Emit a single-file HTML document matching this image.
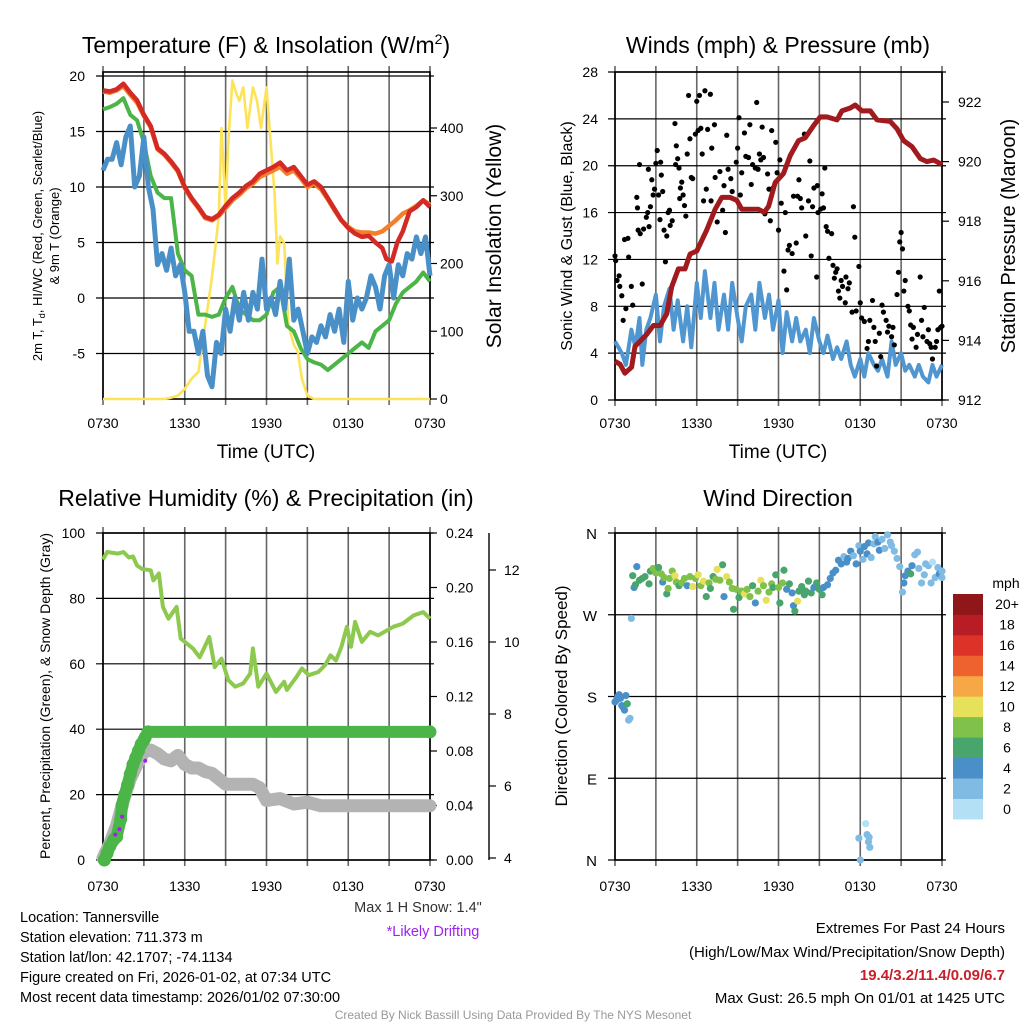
<!DOCTYPE html>
<html><head><meta charset="utf-8"><title>Tannersville Meteogram</title>
<style>
html,body{margin:0;padding:0;background:#fff;}
svg{display:block;font-family:"Liberation Sans",sans-serif;}
</style></head>
<body>
<svg id="chart" width="1024" height="1024" viewBox="0 0 1024 1024" xmlns="http://www.w3.org/2000/svg">
<rect x="0" y="0" width="1024" height="1024" fill="#fff"/>
<g id="tl"></g>
<g id="tr"></g>
<g id="bl"></g>
<g id="br"></g>
<!-- titles -->
<text x="266" y="53" font-size="23" text-anchor="middle">Temperature (F) &amp; Insolation (W/m<tspan font-size="14" dy="-9">2</tspan><tspan dy="9">)</tspan></text>
<text x="778" y="53" font-size="23" text-anchor="middle">Winds (mph) &amp; Pressure (mb)</text>
<text x="266" y="506" font-size="23" text-anchor="middle">Relative Humidity (%) &amp; Precipitation (in)</text>
<text x="778" y="506" font-size="23" text-anchor="middle">Wind Direction</text>
<!-- axis titles -->
<text x="266" y="458" font-size="19" text-anchor="middle">Time (UTC)</text>
<text x="778" y="458" font-size="19" text-anchor="middle">Time (UTC)</text>
<text transform="translate(42,236) rotate(-90)" font-size="13" text-anchor="middle">2m T, T<tspan font-size="9" dy="3">d</tspan><tspan dy="-3">, HI/WC (Red, Green, Scarlet/Blue)</tspan></text>
<text transform="translate(59,236) rotate(-90)" font-size="13" text-anchor="middle">&amp; 9m T (Orange)</text>
<text transform="translate(501,236) rotate(-90)" font-size="21" text-anchor="middle">Solar Insolation (Yellow)</text>
<text transform="translate(572,236) rotate(-90)" font-size="16" text-anchor="middle">Sonic Wind &amp; Gust (Blue, Black)</text>
<text transform="translate(1015,236) rotate(-90)" font-size="20" text-anchor="middle">Station Pressure (Maroon)</text>
<text transform="translate(50,696) rotate(-90)" font-size="14" text-anchor="middle">Percent, Precipitation (Green), &amp; Snow Depth (Gray)</text>
<text transform="translate(567,696) rotate(-90)" font-size="17" text-anchor="middle">Direction (Colored By Speed)</text>
<!-- footer text -->
<text x="418" y="912" font-size="14.5" fill="#333" text-anchor="middle">Max 1 H Snow: 1.4"</text>
<text x="433" y="936" font-size="14.5" fill="#a020f0" text-anchor="middle">*Likely Drifting</text>
<g font-size="14.5">
<text x="20" y="922">Location: Tannersville</text>
<text x="20" y="942">Station elevation: 711.373 m</text>
<text x="20" y="962">Station lat/lon: 42.1707; -74.1134</text>
<text x="20" y="982">Figure created on Fri, 2026-01-02, at 07:34 UTC</text>
<text x="20" y="1002">Most recent data timestamp: 2026/01/02 07:30:00</text>
</g>
<g font-size="15" text-anchor="end">
<text x="1005" y="933">Extremes For Past 24 Hours</text>
<text x="1005" y="957">(High/Low/Max Wind/Precipitation/Snow Depth)</text>
<text x="1005" y="980" font-weight="bold" fill="#c8202a">19.4/3.2/11.4/0.09/6.7</text>
<text x="1005" y="1003">Max Gust: 26.5 mph On 01/01 at 1425 UTC</text>
</g>
<text x="513" y="1019" font-size="12" fill="#999" text-anchor="middle">Created By Nick Bassill Using Data Provided By The NYS Mesonet</text>
</svg>
<script>
// ---------- DATA ----------
const timeTickLabels = ["0730","1330","1930","0130","0730"];
const tempTicks = [-5,0,5,10,15,20];
const solarTicks = [0,100,200,300,400];
const windTicks = [0,4,8,12,16,20,24,28];
const pressTicks = [912,914,916,918,920,922];
const rhTicks = [0,20,40,60,80,100];
const precipTicks = [0.00,0.04,0.08,0.12,0.16,0.20,0.24];
const snowTicks = [4,6,8,10,12];
const dirTickLabels = ["N","E","S","W","N"];
const dirTicks = [0,90,180,270,360];
const speedBins = ["0","2","4","6","8","10","12","14","16","18","20+"];
const speedColors = ["#b3e0f5","#80bbe3","#4a8fc8","#48a56c","#7fc14a","#e6e05a","#f5a845","#ee6230","#dd3228","#b81c25","#8f1619"];

const redTemp = [[0,18.7],[0.5,18.6],[1,18.8],[1.5,19.3],[2,18.5],[2.5,17.8],[3,16.5],[3.5,15.5],[4,13.5],[4.5,13],[5,12.3],[5.5,11.5],[6,10],[6.5,9],[7,8.2],[7.5,7.3],[8,7.1],[8.5,7.5],[9,8.3],[9.5,9],[10,9.5],[10.5,10.1],[11,10.5],[11.5,11.2],[12,11.5],[12.5,11.8],[13,12.2],[13.5,11.5],[14,11.8],[14.5,11],[15,10.2],[15.5,10.5],[16,10],[16.5,9],[17,8],[17.5,7],[18,6.3],[18.5,5.8],[19,5.5],[19.5,5.6],[20,5],[20.5,4.5],[20.8,3.5],[21.2,3.3],[21.6,5],[22,6],[22.5,7.8],[23,8.2],[23.5,8.8],[24,8.2]];
const orangeTemp = [[0,18.6],[0.5,18.5],[1,18.7],[1.5,19.1],[2,18.3],[2.5,17.6],[3,16.4],[3.5,15.4],[4,13.4],[4.5,12.9],[5,12.2],[5.5,11.4],[6,9.9],[6.5,8.9],[7,8.1],[7.5,7.2],[8,7.0],[8.5,7.4],[9,8.1],[9.5,8.8],[10,9.3],[10.5,9.9],[11,10.3],[11.5,10.9],[12,11.2],[12.5,11.5],[13,11.8],[13.5,11.2],[14,11.5],[14.5,10.8],[15,10.0],[15.5,10.3],[16,9.8],[16.5,8.9],[17,7.9],[17.5,7],[18,6.4],[18.5,6],[19,5.9],[19.5,5.9],[20,5.8],[20.5,6],[21,6.5],[21.5,7],[22,7.6],[22.5,7.9],[23,8.3],[23.5,8.8],[24,8.4]];
const greenTemp = [[0,17],[0.5,17.2],[1,17.5],[1.5,18],[2,16.5],[2.5,16],[3,14],[3.5,11],[4,9.5],[4.5,9],[5,9],[5.5,4],[6,2.5],[6.5,2],[7,-1.5],[7.5,-1.5],[8,-1.7],[8.5,-1.5],[9,0],[9.5,1],[10,-1],[10.5,-1.5],[11,-2],[11.5,-2],[12,-1.5],[12.5,0.5],[13,1],[13.5,-2.5],[14,-3],[14.5,-4.5],[15,-5.5],[15.5,-5.8],[16,-6],[16.5,-6.5],[17,-6],[17.5,-5.5],[18,-5],[18.5,-4.5],[19,-4],[19.5,-4.5],[20,-3],[20.5,-2.5],[21,-2],[21.5,-0.5],[22,0.5],[22.5,1],[23,1.5],[23.5,2.3],[24,1.5]];
const blueTemp = [[0,11.5],[0.33,12.5],[0.67,12.5],[1,14],[1.33,12],[1.67,14.5],[2,15.5],[2.33,10],[2.67,11],[3,14.5],[3.33,10],[3.67,8],[4,3],[4.33,4],[4.67,2.5],[5,4.5],[5.33,2],[5.67,3],[6,0.5],[6.33,-3],[6.67,-3],[7,-5],[7.33,-3],[7.67,-7],[8,-8],[8.33,-4],[8.67,-5],[9,-1],[9.33,-3],[9.67,0],[10,-2],[10.33,0.5],[10.67,-2],[11,0.5],[11.33,-1],[11.67,3.5],[12,-1],[12.33,0],[12.67,-1.5],[13,1.5],[13.33,-1],[13.67,3.5],[14,-2],[14.33,-1],[14.67,-3],[15,-5],[15.33,-3.5],[15.67,-4],[16,-2.5],[16.33,-3.5],[16.67,-1.5],[17,-3],[17.33,-1],[17.67,-4],[18,1.5],[18.33,-2],[18.67,0],[19,-1],[19.33,0],[19.67,2],[20,1],[20.33,-1],[20.67,2],[21,3],[21.33,0],[21.67,3],[22,2],[22.33,4],[22.67,3.5],[23,5.5],[23.33,4],[23.67,5.5],[24,2]];
const solar = [[0,0],[4.5,0],[5,2],[5.5,5],[6,15],[6.5,30],[7,40],[7.5,110],[8,180],[8.5,270],[8.7,400],[9,280],[9.2,380],[9.5,470],[9.8,450],[10,440],[10.3,460],[10.6,400],[11,460],[11.3,440],[11.6,400],[12,460],[12.3,380],[12.6,300],[12.8,200],[13,240],[13.3,230],[13.6,110],[14,80],[14.3,70],[14.6,30],[15,5],[15.5,0],[24,0]];

const pressure = [[0,913.3],[0.37,913.2],[0.73,912.9],[1.22,913.1],[1.47,913.8],[2.33,914.2],[2.82,914.5],[3.31,914.5],[3.8,914.9],[4.16,915.8],[4.65,916.4],[5.14,916.4],[5.51,916.9],[6.0,917.0],[6.73,917.7],[7.35,918.4],[7.84,918.8],[8.45,918.8],[8.94,918.7],[9.31,918.4],[9.92,918.4],[10.53,918.4],[10.95,918.3],[11.27,918.5],[11.76,919.3],[12.37,919.6],[12.86,920.2],[13.47,920.7],[13.96,920.8],[14.57,921.2],[15.06,921.5],[15.55,921.5],[16.29,921.4],[16.65,921.7],[17.27,921.8],[17.63,921.9],[18.12,921.7],[18.74,921.7],[19.23,921.4],[20.2,921.35],[20.7,921.1],[21.19,920.7],[21.8,920.5],[22.41,920.1],[22.9,920.0],[23.39,920.05],[24,919.9]];
const windSpeed = [[0,5],[0.5,4],[0.8,3],[1.2,6],[1.5,4.5],[1.8,7],[2,3],[2.3,6],[2.6,7],[3,9],[3.3,5],[3.6,8],[4,9.5],[4.3,6],[4.6,8.5],[5,5],[5.3,8],[5.6,4.5],[6,10],[6.3,7],[6.6,11],[7,7],[7.3,10],[7.6,6],[8,9],[8.3,6],[8.6,10],[9,7],[9.3,5],[9.6,8],[10,9],[10.3,6],[10.6,10],[11,7],[11.3,9],[11.6,6],[12,8.5],[12.3,4],[12.6,7.5],[13,5],[13.3,7],[13.6,5],[14,6],[14.3,4],[14.6,7],[15,5],[15.3,4],[15.6,5.5],[16,3.5],[16.3,4.5],[16.6,3.5],[17,5],[17.3,3],[17.6,2],[18,3.5],[18.3,2],[18.6,4],[19,3],[19.3,2.5],[19.6,3.5],[20,2],[20.3,5],[20.6,3],[21,4],[21.3,2.5],[21.6,3],[22,2],[22.3,3],[22.6,2],[23,1.5],[23.3,3],[23.6,2],[24,3]];
const gusts = [[0.0,12.3],[0.05,11.9],[0.15,10.2],[0.3,10.6],[0.35,9.7],[0.5,8.9],[0.6,6.8],[0.7,13.7],[0.8,7.8],[0.95,13.8],[1.0,12.2],[1.2,9.7],[1.3,8.1],[1.6,17.3],[1.65,16.4],[1.7,14.5],[1.8,20.1],[1.85,14.2],[2.0,9.9],[2.1,14.6],[2.3,15.6],[2.4,16.0],[2.45,19.7],[2.5,14.8],[2.6,16.5],[2.7,18.8],[2.8,17.5],[2.9,18.0],[3.0,20.2],[3.1,21.3],[3.2,17.5],[3.3,15.4],[3.35,20.3],[3.4,19.2],[3.5,17.8],[3.6,14.5],[3.7,11.8],[3.8,14.0],[3.9,16.0],[4.0,16.2],[4.05,14.9],[4.2,15.3],[4.4,23.6],[4.45,20.1],[4.5,21.7],[4.6,20.6],[4.7,19.8],[4.75,17.2],[4.8,18.1],[4.9,18.6],[5.0,17.5],[5.1,16.6],[5.2,15.7],[5.3,21.0],[5.4,26.0],[5.5,22.3],[5.6,19.0],[5.7,18.9],[5.9,22.7],[6.0,25.5],[6.1,23.0],[6.2,26.0],[6.3,23.2],[6.4,21.0],[6.5,17.0],[6.6,26.4],[6.7,18.0],[6.8,23.1],[7.0,26.1],[7.05,17.0],[7.1,21.5],[7.3,23.5],[7.35,19.0],[7.5,15.2],[7.7,19.5],[7.9,16.2],[8.0,18.3],[8.1,14.3],[8.2,22.6],[8.3,19.7],[8.5,18.9],[8.6,17.8],[8.9,20.3],[9.0,21.5],[9.1,24.1],[9.2,17.5],[9.3,19.4],[9.5,22.8],[9.6,20.8],[9.8,20.7],[9.9,23.5],[10.0,18.4],[10.1,20.1],[10.3,19.8],[10.4,25.4],[10.5,19.7],[10.6,21.0],[10.7,20.5],[10.8,23.3],[10.9,20.7],[11.0,15.9],[11.2,19.3],[11.3,18.0],[11.4,15.3],[11.5,23.0],[11.6,18.1],[11.8,22.0],[11.9,19.4],[12.0,14.5],[12.1,20.5],[12.2,16.8],[12.4,11.0],[12.5,16.0],[12.6,9.4],[12.7,12.8],[12.8,13.2],[13.0,12.5],[13.1,17.4],[13.3,13.4],[13.4,17.4],[13.5,18.8],[13.6,17.2],[13.7,16.4],[13.9,22.7],[14.0,14.0],[14.2,17.0],[14.3,20.4],[14.4,12.3],[14.5,16.5],[14.6,18.1],[14.8,10.5],[14.85,18.3],[14.9,16.0],[15.1,16.3],[15.2,17.6],[15.3,16.4],[15.4,19.8],[15.5,14.8],[15.6,14.4],[15.7,12.1],[15.9,14.2],[16.0,11.5],[16.1,10.4],[16.2,10.9],[16.3,11.2],[16.4,9.3],[16.5,8.7],[16.6,10.2],[16.7,9.7],[16.9,8.3],[16.95,10.5],[17.1,9.5],[17.2,10.0],[17.4,7.5],[17.5,16.5],[17.6,13.9],[17.7,7.6],[17.9,11.4],[18.0,8.3],[18.1,7.0],[18.3,6.7],[18.5,4.4],[18.6,5.0],[18.7,6.8],[18.9,8.5],[19.0,6.2],[19.1,5.0],[19.2,2.9],[19.4,5.7],[19.5,3.7],[19.6,8.1],[19.7,7.5],[19.9,6.8],[20.0,5.8],[20.1,6.3],[20.3,5.4],[20.4,6.2],[20.5,4.7],[20.7,9.0],[20.8,10.9],[20.9,13.5],[21.0,14.3],[21.1,12.9],[21.2,9.3],[21.3,10.2],[21.5,8.0],[21.6,7.6],[21.7,6.4],[21.8,5.2],[21.9,6.2],[22.1,4.5],[22.2,5.6],[22.4,10.5],[22.5,6.8],[22.6,5.4],[22.7,7.9],[22.9,5.0],[23.0,6.0],[23.1,4.8],[23.2,4.5],[23.3,3.5],[23.5,4.5],[23.6,5.0],[23.7,6.0],[23.8,9.3],[23.9,6.2],[24.0,6.3]];

const rh = [[0,91.9],[0.3,94.2],[1.1,93.7],[1.5,94.2],[1.9,92.5],[2.2,92.8],[2.5,90],[2.9,89],[3.5,88.6],[3.7,85.5],[4.1,87.6],[4.4,77.4],[4.8,73.8],[5.4,77.4],[5.7,67.7],[6.6,64.7],[7.1,62],[7.8,68.2],[8.2,59],[8.7,61.6],[9.2,55],[9.7,53],[10.3,54],[10.8,57],[11.0,64.7],[11.4,53],[12.0,57],[12.5,53],[12.7,51.4],[13.3,54.5],[13.5,52],[14.2,56],[14.6,58.6],[15.1,56.5],[15.8,57.5],[16.3,59.6],[16.7,62.6],[17.1,61],[17.5,65.2],[17.9,71.3],[18.2,65.2],[18.5,72.8],[19.0,66.7],[19.6,69.8],[20.2,68.7],[21.3,71.3],[22,72.3],[22.8,74.8],[23.5,75.8],[24,73.8]];
const precip = [[0.1,0],[0.3,0.005],[0.5,0.01],[0.8,0.015],[1.0,0.017],[1.3,0.03],[1.4,0.04],[1.6,0.048],[1.8,0.055],[2.0,0.063],[2.2,0.07],[2.4,0.075],[2.6,0.08],[2.8,0.085],[3.0,0.088],[3.1,0.09],[3.3,0.094],[24,0.094]];
const snow = [[0,4.0],[0.5,4.4],[1,4.9],[1.5,5.6],[2,6.2],[2.5,6.6],[3,6.95],[3.5,7.0],[4,6.9],[4.5,6.75],[5,6.7],[5.5,6.85],[6,6.6],[6.5,6.5],[7,6.5],[7.5,6.4],[8,6.35],[8.5,6.2],[9,6.05],[10,6.05],[11,6.05],[11.5,5.95],[12,5.6],[13,5.65],[14,5.5],[15,5.55],[16,5.45],[24,5.45]];
const drift = [[0.9,4.65],[1.2,4.8],[1.4,5.15],[3.1,6.7]];

const windDir = [[0.0,174,4],[0.1,176,4],[0.2,180,4],[0.3,182,4],[0.4,178,3],[0.5,170,3],[0.6,168,3],[0.7,165,3],[0.8,181,4],[0.9,172,6],[1.0,154,2],[1.1,156,2],[1.2,266,2],[1.3,313,6],[1.4,300,4],[1.5,303,6],[1.6,323,4],[1.8,308,6],[2.0,310,6],[2.2,312,6],[2.5,304,6],[2.6,318,6],[2.8,321,8],[3.0,316,8],[3.2,322,6],[3.4,315,8],[3.5,306,4],[3.6,311,8],[3.8,293,6],[3.9,299,8],[4.0,310,8],[4.2,318,8],[4.4,313,10],[4.5,306,8],[4.7,302,6],[4.9,305,8],[5.1,310,8],[5.3,302,4],[5.5,312,8],[5.7,301,10],[5.9,310,8],[6.1,314,10],[6.3,302,8],[6.5,307,10],[6.7,290,6],[6.9,305,8],[7.0,299,6],[7.2,312,6],[7.4,309,8],[7.5,320,10],[7.7,308,8],[7.9,325,6],[8.0,290,4],[8.2,312,10],[8.4,306,8],[8.6,299,8],[8.7,276,6],[8.9,298,8],[9.1,289,6],[9.3,296,8],[9.5,293,10],[9.7,298,8],[9.9,290,8],[10.1,302,6],[10.3,283,4],[10.5,296,8],[10.7,308,10],[10.9,302,8],[11.1,286,10],[11.3,295,8],[11.5,304,8],[11.6,300,6],[11.8,314,6],[12.0,300,8],[12.1,283,6],[12.3,305,8],[12.4,319,6],[12.6,298,4],[12.8,304,6],[13.0,294,4],[13.1,280,4],[13.2,274,6],[13.4,285,10],[13.5,296,6],[13.7,301,6],[13.9,292,6],[14.0,296,6],[14.2,307,6],[14.4,294,6],[14.6,300,4],[14.8,305,6],[15.0,298,6],[15.2,292,6],[15.3,300,4],[15.6,303,4],[15.8,310,4],[16.0,316,4],[16.2,319,4],[16.4,330,4],[16.6,326,4],[16.8,334,2],[17.0,328,4],[17.1,332,4],[17.3,340,4],[17.5,335,2],[17.7,326,4],[17.9,346,2],[18.0,340,4],[18.2,331,2],[18.3,345,4],[18.5,337,4],[18.6,349,4],[18.8,333,2],[19.0,348,2],[19.1,356,2],[19.3,350,4],[19.4,341,4],[19.6,353,2],[19.8,343,2],[20.0,358,2],[20.2,350,2],[20.3,346,2],[20.5,340,2],[20.7,332,2],[20.9,323,2],[21.1,295,2],[21.2,305,4],[21.3,313,4],[21.5,318,4],[21.7,315,6],[21.8,324,4],[22.0,336,2],[22.2,339,2],[22.3,321,2],[22.5,305,2],[22.7,314,2],[22.8,326,2],[23.0,324,2],[23.2,305,2],[23.3,328,0],[23.5,311,2],[23.7,322,2],[23.8,315,4],[24.0,311,2],[24.0,318,2],[17.9,24,2],[18.0,0,2],[18.4,40,0],[18.5,28,2],[18.6,20,2],[18.65,25,2],[18.7,14,2]];

// ---------- HELPERS ----------
const NS = "http://www.w3.org/2000/svg";
function mk(tag, parent, attrs){const e=document.createElementNS(NS,tag);for(const k in attrs)e.setAttribute(k,attrs[k]);parent.appendChild(e);return e;}
function pathOf(data, fx, fy){return data.map((d,i)=>(i?"L":"M")+fx(d[0]).toFixed(1)+","+fy(d[1]).toFixed(1)).join("");}

function frame(g, x0, x1, y0, y1, fx, hTicks, fy, name){
  for(let i=0;i<=8;i++){
    const x=fx(i*3);
    const l=mk("line",g,{x1:x,x2:x,y1:y0-6,y2:y1+6,stroke:"#666","stroke-width":1.6});
    
    
  }
  hTicks.forEach(v=>{
    const y=fy(v);
    const l=mk("line",g,{x1:x0-7,x2:x1+4,y1:y,y2:y,stroke:"#000","stroke-width":1.2});
    
    
  });
  const b=mk("rect",g,{x:x0,y:y0,width:x1-x0,height:y1-y0,fill:"none",stroke:"#000","stroke-width":1.6});
  
  
}
function xLabels(g, fx, y){
  timeTickLabels.forEach((t,i)=>{
    const e=mk("text",g,{x:fx(i*6),y:y,"font-size":14,"text-anchor":"middle"});
    e.textContent=t;
    
    
  });
}
function yLabels(g, ticks, fy, x, anchor, fmt, name){
  ticks.forEach(v=>{
    const e=mk("text",g,{x:x,y:fy(v)+5,"font-size":14,"text-anchor":anchor});
    e.textContent=fmt(v);
    
    
  });
}
function rightTicks(g, ticks, fy, x){
  ticks.forEach(v=>{
    const l=mk("line",g,{x1:x,x2:x+7,y1:fy(v),y2:fy(v),stroke:"#000","stroke-width":1.2});
    
    
  });
}

// ---------- TOP LEFT ----------
(function(){
  const g=document.getElementById("tl");
  const fx=h=>103+h*13.625, fy=v=>298-v*11.1, fs=w=>399-w*0.6775;
  frame(g,103,430,72,399,fx,tempTicks,fy,"tl");
  xLabels(g,fx,428);
  yLabels(g,tempTicks,fy,85,"end",v=>String(v),"temp-tick-label");
  rightTicks(g,solarTicks,fs,430);
  yLabels(g,solarTicks,fs,440,"start",v=>String(v),"solar-tick-label");
  const ys=mk("path",g,{d:pathOf(solar,fx,fs),fill:"none",stroke:"#fde35a","stroke-width":2.6,"stroke-linejoin":"round"});
  
  
  const gr=mk("path",g,{d:pathOf(greenTemp,fx,fy),fill:"none",stroke:"#4bb548","stroke-width":4,"stroke-linejoin":"round"});
  
  
  const bl=mk("path",g,{d:pathOf(blueTemp,fx,fy),fill:"none",stroke:"#4a90c8","stroke-width":5,"stroke-linejoin":"round"});
  
  
  const or=mk("path",g,{d:pathOf(orangeTemp,fx,fy),fill:"none",stroke:"#f47f2a","stroke-width":4.5,"stroke-linejoin":"round"});
  
  
  const rd=mk("path",g,{d:pathOf(redTemp,fx,fy),fill:"none",stroke:"#d42a26","stroke-width":4.5,"stroke-linejoin":"round"});
  
  
})();

// ---------- TOP RIGHT ----------
(function(){
  const g=document.getElementById("tr");
  const fx=h=>615+h*13.625, fy=v=>400-v*11.714, fp=p=>400-(p-912)*29.8;
  frame(g,615,942,72,400,fx,windTicks,fy,"tr");
  xLabels(g,fx,428);
  yLabels(g,windTicks,fy,598,"end",v=>String(v),"wind-tick-label");
  rightTicks(g,pressTicks,fp,942);
  yLabels(g,pressTicks,fp,958,"start",v=>String(v),"pressure-tick-label");
  const ws=mk("path",g,{d:pathOf(windSpeed,fx,fy),fill:"none",stroke:"#5096d0","stroke-width":4,"stroke-linejoin":"round"});
  
  
  gusts.forEach(d=>{
    const c=mk("circle",g,{cx:fx(d[0]),cy:fy(d[1]),r:2.6,fill:"#000"});
    
    
  });
  const pr=mk("path",g,{d:pathOf(pressure,fx,fp),fill:"none",stroke:"#a01a1e","stroke-width":5,"stroke-linejoin":"round"});
  
  
})();

// ---------- BOTTOM LEFT ----------
(function(){
  const g=document.getElementById("bl");
  const fx=h=>103+h*13.625, fy=v=>860-v*3.27, fpr=v=>860-v*1362.5, fsn=v=>858-(v-4)*36;
  frame(g,103,430,533,860,fx,rhTicks,fy,"bl");
  xLabels(g,fx,891);
  yLabels(g,rhTicks,fy,85,"end",v=>String(v),"rh-tick-label");
  rightTicks(g,precipTicks,fpr,430);
  yLabels(g,precipTicks,fpr,446,"start",v=>v.toFixed(2),"precip-tick-label");
  const ax=mk("line",g,{x1:489,x2:489,y1:533,y2:860,stroke:"#000","stroke-width":1.4});
  
  
  rightTicks(g,snowTicks,fsn,489);
  yLabels(g,snowTicks,fsn,504,"start",v=>String(v),"snow-tick-label");
  const sn=mk("path",g,{d:pathOf(snow,fx,fsn),fill:"none",stroke:"#b3b3b3","stroke-width":13,"stroke-linejoin":"round","stroke-linecap":"round"});
  
  
  const pl=mk("path",g,{d:pathOf(precip,fx,fpr),fill:"none",stroke:"#4bb548","stroke-width":12,"stroke-linejoin":"round","stroke-linecap":"round"});
  
  
  precip.forEach(d=>{
    const c=mk("circle",g,{cx:fx(d[0]),cy:fpr(d[1]),r:6.5,fill:"#4bb548"});
    
    
  });
  drift.forEach(d=>{
    const c=mk("circle",g,{cx:fx(d[0]),cy:fsn(d[1]),r:2,fill:"#a020f0"});
    
    
  });
  const r=mk("path",g,{d:pathOf(rh,fx,fy),fill:"none",stroke:"#8dc94e","stroke-width":4,"stroke-linejoin":"round"});
  
  
})();

// ---------- BOTTOM RIGHT ----------
(function(){
  const g=document.getElementById("br");
  const fx=h=>615+h*13.625, fy=d=>860-d*0.9083;
  frame(g,615,942,533,860,fx,dirTicks,fy,"br");
  xLabels(g,fx,891);
  dirTicks.forEach((v,i)=>{
    const e=mk("text",g,{x:597,y:fy(v)+6,"font-size":15,"text-anchor":"end"});
    e.textContent=dirTickLabels[i];
    
    
  });
  windDir.forEach(d=>{
    const idx=Math.min(10,Math.max(0,Math.round(d[2]/2)));
    const c=mk("circle",g,{cx:fx(d[0]),cy:fy(d[1]),r:3.6,fill:speedColors[idx]});
    
    
  });
  const m=mk("text",g,{x:1006,y:588,"font-size":14,"text-anchor":"middle"});
  m.textContent="mph";
  
  
  const bh=225/11;
  speedBins.forEach((lab,i)=>{
    const j=10-i;
    const rr=mk("rect",g,{x:953,y:594+j*bh,width:30,height:bh+0.4,fill:speedColors[i]});
    
    
    const t=mk("text",g,{x:1007,y:594+j*bh+bh/2+5,"font-size":14,"text-anchor":"middle"});
    t.textContent=lab;
    
    
  });
})();
</script>
</body></html>
